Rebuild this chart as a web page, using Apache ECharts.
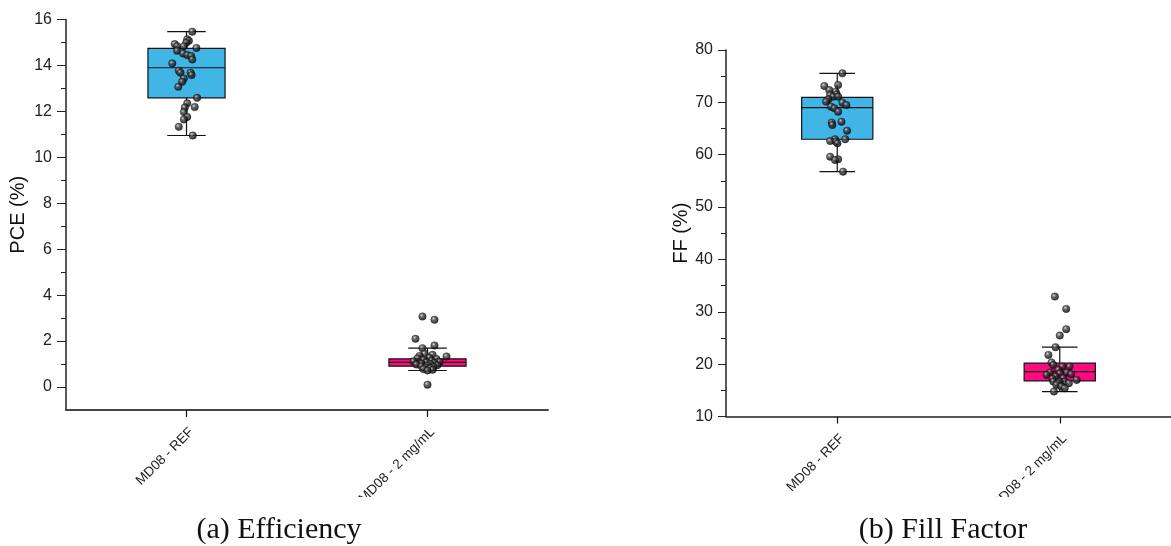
<!DOCTYPE html>
<html>
<head>
<meta charset="utf-8">
<script src="https://cdn.jsdelivr.net/npm/echarts@6/dist/echarts.min.js"></script>
<style>
html,body{margin:0;padding:0;background:#fff;}
#c{width:1171px;height:546px;}
</style>
</head>
<body>
<div id="c"></div>
<script>
// ---------- data ----------
const categories = ['MD08 - REF', 'MD08 - 2 mg/mL'];

// box stats: [lower whisker, Q1, median, Q3, upper whisker]
const pceBoxRef = [10.95, 12.59, 13.90, 14.74, 15.47];
const pceBox2mg = [0.72, 0.91, 1.07, 1.23, 1.69];
const ffBoxRef = [56.77, 62.95, 68.99, 70.97, 75.55];
const ffBox2mg = [14.77, 16.81, 18.59, 20.18, 23.24];

// individual devices: values and horizontal jitter (fraction of category band)
const pceRefValues = [15.47,15.14,15.07,14.99,14.93,14.84,14.84,14.76,14.64,14.52,14.45,14.41,14.26,14.09,13.77,13.68,13.68,13.58,13.43,13.29,13.07,12.59,12.35,12.19,12.17,11.97,11.76,11.65,11.33,10.95];
const pceRefJitter = [0.024,0.003,0.010,-0.001,-0.049,-0.039,-0.011,0.041,-0.039,-0.014,0.003,0.019,0.024,-0.059,-0.032,-0.025,0.017,0.021,-0.011,-0.018,-0.034,0.044,0.003,0.034,-0.007,-0.011,0.003,-0.011,-0.032,0.026];

const pce2mgValues = [3.07,2.93,2.10,1.81,1.69,1.33,0.10,1.45,1.40,1.35,1.28,1.25,1.22,1.18,1.15,1.12,1.10,1.08,1.05,1.02,1.00,0.98,0.95,0.93,0.90,0.88,0.85,0.82,0.78,0.75,0.72];
const pce2mgJitter = [-0.021,0.029,-0.050,0.029,-0.021,0.079,0.000,-0.012,0.021,-0.033,0.008,-0.041,0.037,-0.017,0.017,-0.058,0.050,-0.004,0.029,-0.025,0.012,-0.046,0.041,0.000,-0.025,0.025,-0.008,0.012,-0.017,0.021,0.000];

const ffRefValues = [75.55,73.32,73.13,72.36,72.04,71.54,71.41,71.09,71.09,70.59,70.14,69.94,69.50,69.18,68.87,68.22,66.31,66.12,65.68,64.59,62.95,62.95,62.63,62.50,62.19,59.63,59.12,58.99,56.77];
const ffRefJitter = [0.023,0.004,-0.058,-0.036,-0.007,-0.003,-0.032,-0.018,0.004,-0.040,-0.050,0.023,0.041,-0.028,-0.013,0.004,0.019,-0.025,-0.022,0.044,-0.010,0.036,-0.032,-0.006,0.001,-0.032,0.004,-0.010,0.026];

const ff2mgValues = [32.90,30.55,26.68,25.46,23.24,21.77,20.31,19.86,19.54,19.54,18.91,18.40,18.40,18.21,18.08,17.95,17.63,17.31,17.19,16.99,16.68,16.68,16.68,16.36,16.36,16.04,15.72,15.40,14.77];
const ff2mgJitter = [-0.022,0.029,0.029,0.000,-0.019,-0.051,-0.037,-0.029,0.011,0.044,-0.007,-0.044,0.032,0.000,0.051,-0.059,-0.018,0.015,-0.033,0.076,-0.029,0.022,0.000,-0.007,0.041,-0.015,0.007,0.022,-0.026];

const pceTicks = [0,2,4,6,8,10,12,14,16];
const pceMinorTicks = [1,3,5,7,9,11,13,15];
const ffTicks = [10,20,30,40,50,60,70,80];

const captionA = '(a) Efficiency';
const captionB = '(b) Fill Factor';

const boxColors = ['#41B6E6', '#FF0A80'];

// ---------- helpers ----------
function boxData(boxes) {
  return boxes.map((b, i) => ({ value: [i].concat(b), itemStyle: { color: boxColors[i] } }));
}
function pts(cat, vals, jit) {
  return vals.map((v, i) => [cat + jit[i], v]);
}
function renderBox(params, api) {
  const x = api.value(0);
  const band = api.size([1, 0])[0];
  const bw = band * 0.32;
  const cx = api.coord([x, 0])[0];
  const yLow = api.coord([x, api.value(1)])[1];
  const yQ1 = api.coord([x, api.value(2)])[1];
  const yMed = api.coord([x, api.value(3)])[1];
  const yQ3 = api.coord([x, api.value(4)])[1];
  const yHigh = api.coord([x, api.value(5)])[1];
  const color = api.visual('color');
  const ls = { stroke: '#111', lineWidth: 1.2 };
  return {
    type: 'group',
    children: [
      { type: 'line', shape: { x1: cx, y1: yQ3, x2: cx, y2: yHigh }, style: ls },
      { type: 'line', shape: { x1: cx, y1: yQ1, x2: cx, y2: yLow }, style: ls },
      { type: 'line', shape: { x1: cx - bw / 4, y1: yHigh, x2: cx + bw / 4, y2: yHigh }, style: ls },
      { type: 'line', shape: { x1: cx - bw / 4, y1: yLow, x2: cx + bw / 4, y2: yLow }, style: ls },
      { type: 'rect', shape: { x: cx - bw / 2, y: yQ3, width: bw, height: yQ1 - yQ3 }, style: { fill: color, stroke: '#111', lineWidth: 1.2 } },
      { type: 'line', shape: { x1: cx - bw / 2, y1: yMed, x2: cx + bw / 2, y2: yMed }, style: ls }
    ]
  };
}
const sphere = {
  type: 'radial', x: 0.38, y: 0.35, r: 0.65,
  colorStops: [{ offset: 0, color: '#d0d0d0' }, { offset: 0.35, color: '#444' }, { offset: 1, color: '#000' }]
};
function scatter(xIdx, yIdx, data) {
  return {
    type: 'scatter', xAxisIndex: xIdx, yAxisIndex: yIdx, data: data,
    symbol: 'circle', symbolSize: 7.5, z: 5,
    itemStyle: { color: sphere, borderColor: '#000', borderWidth: 0.4 },
    silent: true
  };
}

const tickFont = { fontFamily: 'Liberation Sans', fontSize: 16, color: '#222' };
const catLabel = { fontFamily: 'Liberation Sans', fontSize: 13.5, color: '#222', rotate: 45, margin: 15, interval: 0, verticalAlign: 'top' };
const nameFont = { fontFamily: 'Liberation Sans', fontSize: 20, color: '#111' };

const chart = echarts.init(document.getElementById('c'), null, { renderer: 'canvas' });
chart.setOption({
  backgroundColor: '#fff',
  animation: false,
  grid: [
    { left: 66, top: 19.5, width: 482, height: 390.5 },
    { left: 726, top: 50, width: 455, height: 366.5 }
  ],
  xAxis: [
    { type: 'category', gridIndex: 0, data: categories, boundaryGap: true,
      axisLine: { onZero: false, lineStyle: { color: '#444', width: 2 } },
      axisTick: { show: true, alignWithLabel: true, length: 7, lineStyle: { color: '#111', width: 1.2 } },
      axisLabel: catLabel, splitLine: { show: false } },
    { type: 'value', gridIndex: 0, min: -0.5, max: 1.5, show: false, axisLine: { onZero: false } },
    { type: 'category', gridIndex: 1, data: categories, boundaryGap: true,
      axisLine: { onZero: false, lineStyle: { color: '#222', width: 1.5 } },
      axisTick: { show: true, alignWithLabel: true, length: 7, lineStyle: { color: '#111', width: 1.2 } },
      axisLabel: catLabel, splitLine: { show: false } },
    { type: 'value', gridIndex: 1, min: -0.5, max: 1.5, show: false, axisLine: { onZero: false } }
  ],
  yAxis: [
    { type: 'value', gridIndex: 0, min: -1, max: 16,
      name: 'PCE (%)', nameLocation: 'middle', nameGap: 38, nameTextStyle: nameFont,
      axisLine: { show: true, onZero: false, lineStyle: { color: '#222', width: 1.5 } },
      axisTick: { show: true, length: 9, customValues: pceTicks, lineStyle: { color: '#222' } },
      axisLabel: Object.assign({ customValues: pceTicks, margin: 14 }, tickFont),
      splitLine: { show: false } },
    { type: 'value', gridIndex: 0, min: -1, max: 16, position: 'left',
      axisLine: { show: false, onZero: false },
      axisTick: { show: true, length: 5, customValues: pceMinorTicks, lineStyle: { color: '#222' } },
      axisLabel: { show: false }, splitLine: { show: false } },
    { type: 'value', gridIndex: 1, min: 10, max: 80, interval: 10,
      name: 'FF (%)', nameLocation: 'middle', nameGap: 33, nameTextStyle: nameFont,
      axisLine: { show: true, onZero: false, lineStyle: { color: '#222', width: 1.5 } },
      axisTick: { show: true, length: 8, lineStyle: { color: '#222' } },
      minorTick: { show: true, splitNumber: 2, length: 5, lineStyle: { color: '#222' } },
      axisLabel: Object.assign({ margin: 13 }, tickFont),
      splitLine: { show: false } }
  ],
  series: [
    { type: 'custom', xAxisIndex: 0, yAxisIndex: 0, renderItem: renderBox,
      encode: { x: 0, y: [1, 2, 3, 4, 5] }, data: boxData([pceBoxRef, pceBox2mg]), z: 2 },
    { type: 'custom', xAxisIndex: 2, yAxisIndex: 2, renderItem: renderBox,
      encode: { x: 0, y: [1, 2, 3, 4, 5] }, data: boxData([ffBoxRef, ffBox2mg]), z: 2 },
    scatter(1, 0, pts(0, pceRefValues, pceRefJitter).concat(pts(1, pce2mgValues, pce2mgJitter))),
    scatter(3, 2, pts(0, ffRefValues, ffRefJitter).concat(pts(1, ff2mgValues, ff2mgJitter)))
  ],
  graphic: [
    { type: 'rect', left: 0, top: 497, shape: { width: 1171, height: 14 }, style: { fill: '#fff' }, z: 100 },
    { type: 'text', x: 279, y: 530, z: 101,
      style: { text: captionA, fill: '#111', font: '30px "Liberation Serif"', align: 'center', verticalAlign: 'middle' } },
    { type: 'text', x: 943, y: 530, z: 101,
      style: { text: captionB, fill: '#111', font: '30px "Liberation Serif"', align: 'center', verticalAlign: 'middle' } }
  ]
});
</script>
</body>
</html>
